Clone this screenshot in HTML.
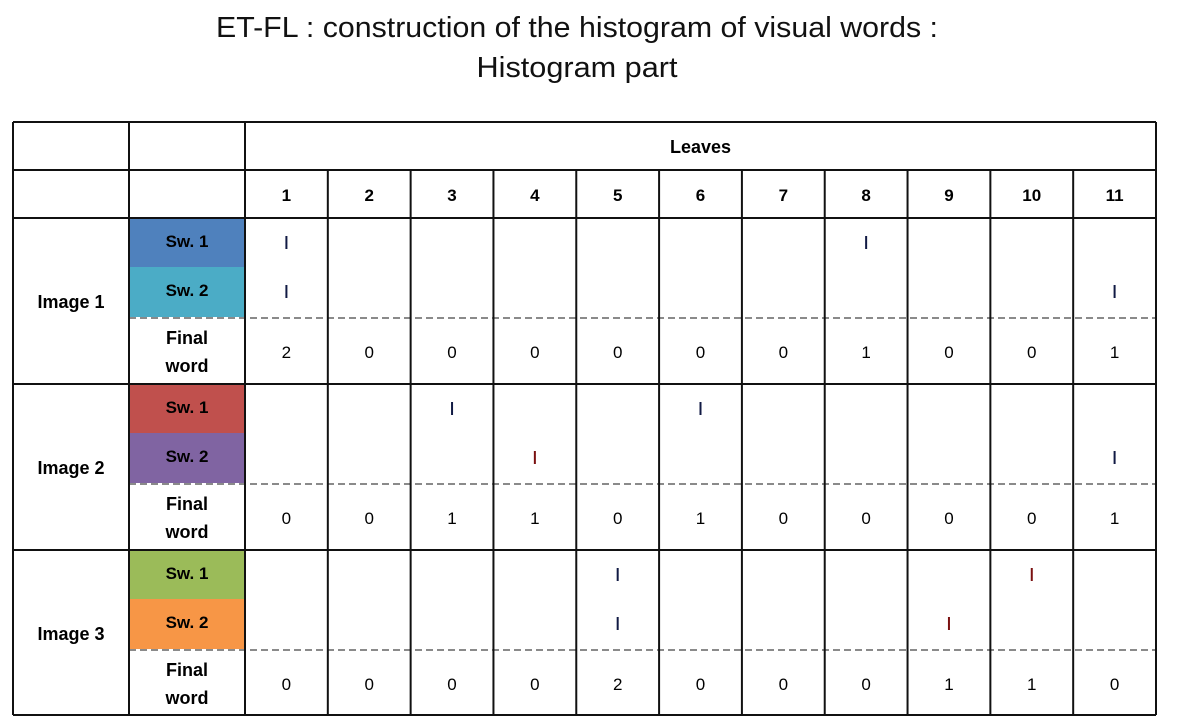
<!DOCTYPE html>
<html><head><meta charset="utf-8"><style>
html,body{margin:0;padding:0;background:#fff;width:1177px;height:728px;overflow:hidden}
svg{display:block;font-family:"Liberation Sans",sans-serif}
</style></head><body>
<svg id="s" width="1177" height="728">
<text x="577" y="37" text-anchor="middle" font-size="29" textLength="722" lengthAdjust="spacingAndGlyphs" fill="#111">ET-FL : construction of the histogram of visual words :</text>
<text x="577" y="77" text-anchor="middle" font-size="29" textLength="201" lengthAdjust="spacingAndGlyphs" fill="#111">Histogram part</text>
</svg>
<script>
const leaves=['1','2','3','4','5','6','7','8','9','10','11'];
const images=['Image 1','Image 2','Image 3'];
const finalWords=[[2,0,0,0,0,0,0,1,0,0,1],[0,0,1,1,0,1,0,0,0,0,1],[0,0,0,0,2,0,0,0,1,1,0]];
// marks: [image, subword(0/1), leaf index, red?]
const marks=[[0,0,0,0],[0,1,0,0],[0,0,7,0],[0,1,10,0],
 [1,0,2,0],[1,0,5,0],[1,1,3,1],[1,1,10,0],
 [2,0,4,0],[2,0,9,1],[2,1,4,0],[2,1,8,1]];
const swColors=[['#4f81bd','#4bacc6'],['#c0504d','#8064a2'],['#9bbb59','#f79646']];
const s=document.getElementById('s');
const NS='http://www.w3.org/2000/svg';
function el(t,a,txt){const e=document.createElementNS(NS,t);for(const k in a)e.setAttribute(k,a[k]);if(txt!=null)e.textContent=txt;s.appendChild(e);return e;}
const X0=13,X1=129,X2=245,XE=1156,cw=(XE-X2)/leaves.length;
const colX=i=>X2+i*cw;
const blockTop=[218,384,550];
let e=el('text',{x:(X2+XE)/2,y:153,'text-anchor':'middle','font-size':18,'font-weight':'bold'},'Leaves');


leaves.forEach((l,i)=>{const t=el('text',{x:colX(i)+cw/2,y:201,'text-anchor':'middle','font-size':17,'font-weight':'bold'},l);

});
images.forEach((im,b)=>{
 const y=blockTop[b];
 const r1=el('rect',{x:X1,y:y,width:X2-X1,height:49,fill:swColors[b][0]});
 
 
 const r2=el('rect',{x:X1,y:y+49,width:X2-X1,height:50,fill:swColors[b][1]});
 
 
 let t=el('text',{x:71,y:y+90,'text-anchor':'middle','font-size':18,'font-weight':'bold'},im);
 
 
 t=el('text',{x:187,y:y+29,'text-anchor':'middle','font-size':17,'font-weight':'bold'},'Sw. 1');
 
 
 t=el('text',{x:187,y:y+78,'text-anchor':'middle','font-size':17,'font-weight':'bold'},'Sw. 2');
 
 
 t=el('text',{x:187,y:y+126,'text-anchor':'middle','font-size':18,'font-weight':'bold'},'Final');
 
 
 t=el('text',{x:187,y:y+154,'text-anchor':'middle','font-size':18,'font-weight':'bold'},'word');
 
 
 finalWords[b].forEach((v,i)=>{const n=el('text',{x:colX(i)+cw/2,y:y+140,'text-anchor':'middle','font-size':17},v);
  
  });
 const d=el('line',{x1:X1,x2:XE,y1:y+100,y2:y+100,stroke:'#444','stroke-width':1.2,'stroke-dasharray':'7,4'});
 
 
});
marks.forEach(m=>{
 const y=blockTop[m[0]]+(m[1]?79:30);
 const t=el('rect',{x:colX(m[2])+cw/2-1,y:y-12,width:2,height:13,fill:m[3]?'#7a1010':'#111a44'});
 
 
});
const L=(x1,y1,x2,y2)=>{const l=el('line',{x1,y1,x2,y2,stroke:'#111','stroke-width':2});
 
 };
[122,715].forEach(y=>L(X0,y,XE,y));
L(X0,170,XE,170);
[218,384,550].forEach(y=>L(X0,y,XE,y));
[X0,X1,X2,XE].forEach(x=>L(x,122,x,715));
for(let i=1;i<leaves.length;i++)L(colX(i),170,colX(i),715);
</script>
</body></html>
